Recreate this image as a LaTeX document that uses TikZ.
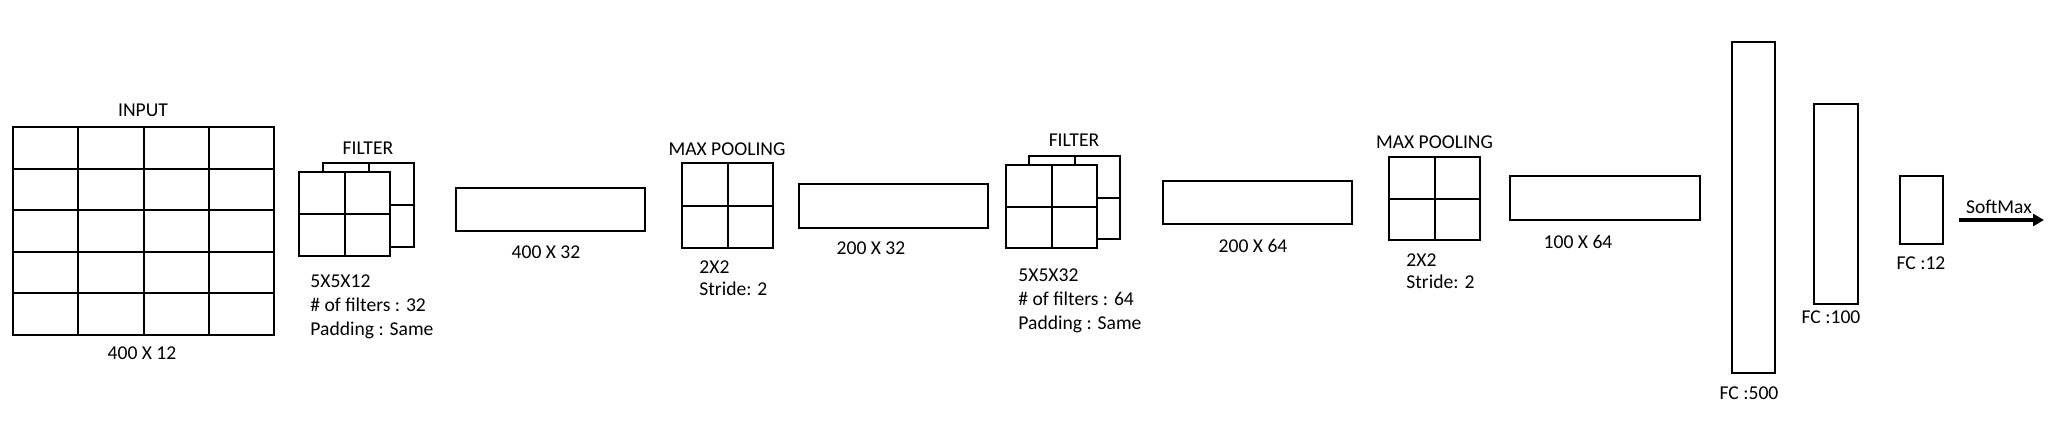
\documentclass[tikz,border=0pt]{standalone}
\usepackage{fontspec}
\setmainfont{Carlito}
\usetikzlibrary{arrows.meta}

\tikzset{
	cell/.style={line width=1pt},
	layer/.style={line width=0.75pt},
	lbl/.style={inner sep=0pt, font=\fontsize{9.8}{12}\selectfont},
	info/.style={lbl, anchor=west, align=left},
}

\begin{document}
\begin{tikzpicture}[x=0.5pt, y=-0.5pt]
	\useasboundingbox (0,0) rectangle (2069,434);
	% input grid
	\draw[cell] (13,127) rectangle (274,335);
	\foreach \c in {1,2,3} \draw[cell] ({13+\c*65.25},127) -- ({13+\c*65.25},335);
	\foreach \r in {1,...,4} \draw[cell] (13,{127+\r*41.6}) -- (274,{127+\r*41.6});
	\node[lbl] (input) at (143,110) {INPUT};
	\node[lbl] (inputsize) at (142,353) {400 X 12};
	% first filter
	\draw[cell, fill=white] (323,163) rectangle (414,247) (368.5,163) -- (368.5,247) (323,205) -- (414,205);
	\draw[cell, fill=white] (299,172) rectangle (390,256) (344.5,172) -- (344.5,256) (299,214) -- (390,214);
	\node[lbl] (filter1) at (368,148) {FILTER};
	\node[info] (filter1info) at (310,307) {5X5X12\\\# of filters : 32\\Padding : Same};
	% first conv output
	\draw[layer] (456,188) rectangle (645,231);
	\node[lbl] (conv1) at (546,252) {400 X 32};
	% first pooling
	\draw[cell] (682,163) rectangle (773,248) (727.5,163) -- (727.5,248) (682,205.5) -- (773,205.5);
	\node[lbl] (pool1) at (727,149) {MAX POOLING};
	\node[info] (pool1info) at (699,278) {2X2\\[-1pt]Stride: 2};
	\draw[layer] (799,184) rectangle (988,228);
	\node[lbl] (out1) at (871,248) {200 X 32};
	% second filter
	\draw[cell, fill=white] (1029,156) rectangle (1120,239) (1074.5,156) -- (1074.5,239) (1029,197.5) -- (1120,197.5);
	\draw[cell, fill=white] (1006,165) rectangle (1097,248) (1051.5,165) -- (1051.5,248) (1006,206.5) -- (1097,206.5);
	\node[lbl] (filter2) at (1074,140) {FILTER};
	\node[info] (filter2info) at (1018,301) {5X5X32\\\# of filters : 64\\Padding : Same};
	% second conv output
	\draw[layer] (1163,181) rectangle (1352,224);
	\node[lbl] (conv2) at (1253,246) {200 X 64};
	% second pooling
	\draw[cell] (1389,157) rectangle (1480,240) (1434.5,157) -- (1434.5,240) (1389,198.5) -- (1480,198.5);
	\node[lbl] (pool2) at (1434.5,142) {MAX POOLING};
	\node[info] (pool2info) at (1406,271) {2X2\\[-1pt]Stride: 2};
	\draw[layer] (1510,176) rectangle (1700,220);
	\node[lbl] (out2) at (1578,242) {100 X 64};
	% fully connected
	\draw[layer] (1732,42) rectangle (1775,373);
	\node[lbl] (fc500) at (1749,393) {FC :500};
	\draw[layer] (1814,104) rectangle (1858,304);
	\node[lbl] (fc100) at (1831,317) {FC :100};
	\draw[layer] (1900,176) rectangle (1943,244);
	\node[lbl] (fc12) at (1921,263) {FC :12};
	% softmax
	\coordinate (smstart) at (1959,220);
	\coordinate (smend) at (2044,220);
	\draw[line width=2pt, -{Triangle[length=5.5pt,width=6pt]}] (smstart) -- (smend);
	\node[lbl] (softmax) at (1999,207) {SoftMax};
\end{tikzpicture}
\end{document}
